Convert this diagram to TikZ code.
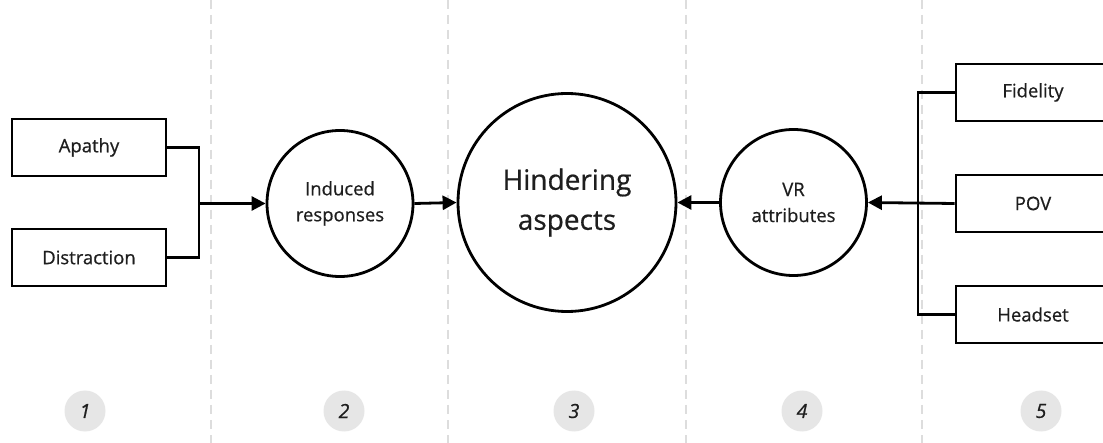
\documentclass[tikz,border=0pt]{standalone}
\usepackage{fontspec}
\setmainfont{Open Sans}
\newfontfamily\labelfont{Open Sans}[UprightFeatures={FakeBold=0.6}]
\newfontfamily\stagefont{Open Sans}[ItalicFeatures={FakeBold=0.8}]
\usetikzlibrary{arrows.meta}
\definecolor{ink}{HTML}{1E1E1E}
\definecolor{guide}{HTML}{DDDDDD}
\definecolor{badge}{HTML}{E6E6E6}
\begin{document}
\begin{tikzpicture}[x=1pt,y=-1pt,
  wire/.style={line width=2.8pt,draw=black},
  flow/.style={wire,-{Triangle[length=14pt,width=14pt]}},
  factor/.style={draw=black,line width=2.8pt,minimum width=154pt,minimum height=57pt,
    inner sep=0pt,text=ink,font=\labelfont\fontsize{18.5}{22}\selectfont},
  hub/.style={draw=black,line width=2.8pt,circle,inner sep=0pt,align=center,text=ink,
    font=\labelfont\fontsize{18.5}{26}\selectfont},
  stage/.style={fill=badge,circle,minimum size=41pt,inner sep=0pt,
    text=ink,font=\stagefont\itshape\fontsize{19.5}{20}\selectfont},
  lane/.style={draw=guide,line width=1.3pt,dash pattern=on 9pt off 6pt}]
\useasboundingbox (0,0) rectangle (1103,443);
\fill[white] (0,0) rectangle (1103,443);

% column separators
\foreach \gx in {211,448,686,922}
  \draw[lane] (\gx,0) -- (\gx,443);

% stage numbers
\node[stage] (s1) at (85,411) {1};
\node[stage] (s2) at (344,411) {2};
\node[stage] (s3) at (574,411) {3};
\node[stage] (s4) at (802,411) {4};
\node[stage] (s5) at (1041,411) {5};

% left factors
\node[factor] (apathy) at (89,147.5) {Apathy};
\node[factor] (distr) at (89,257.5) {Distraction};

% circles
\node[hub,minimum size=146pt] (induced) at (340,203.5) {Induced\\responses};
\node[hub,minimum size=218pt,font=\labelfont\fontsize{28}{40}\selectfont] (hinder) at (567,202.5) {Hindering\\aspects};
\node[hub,minimum size=146pt] (vr) at (793.5,202.5) {VR\\attributes};

% right factors (run past the page edge)
\node[factor] (fidelity) at (1033,92.5) {Fidelity};
\node[factor] (pov) at (1033,203.5) {POV};
\node[factor] (headset) at (1033,314.5) {Headset};

% left bracket
\coordinate (lbus) at (199,203.5);
\draw[wire] (apathy.east) -| (lbus) |- (distr.east);
\draw[flow] (lbus) -- (induced.west);
\draw[flow] (induced.east) -- (hinder.west);

% right bracket
\coordinate (rbus) at (918,203.5);
\draw[wire] (fidelity.west) -| (rbus) |- (headset.west);
\draw[flow] (pov.west) -- (vr.east);
\draw[flow] (vr.west) -- (hinder.east);
\end{tikzpicture}
\end{document}
